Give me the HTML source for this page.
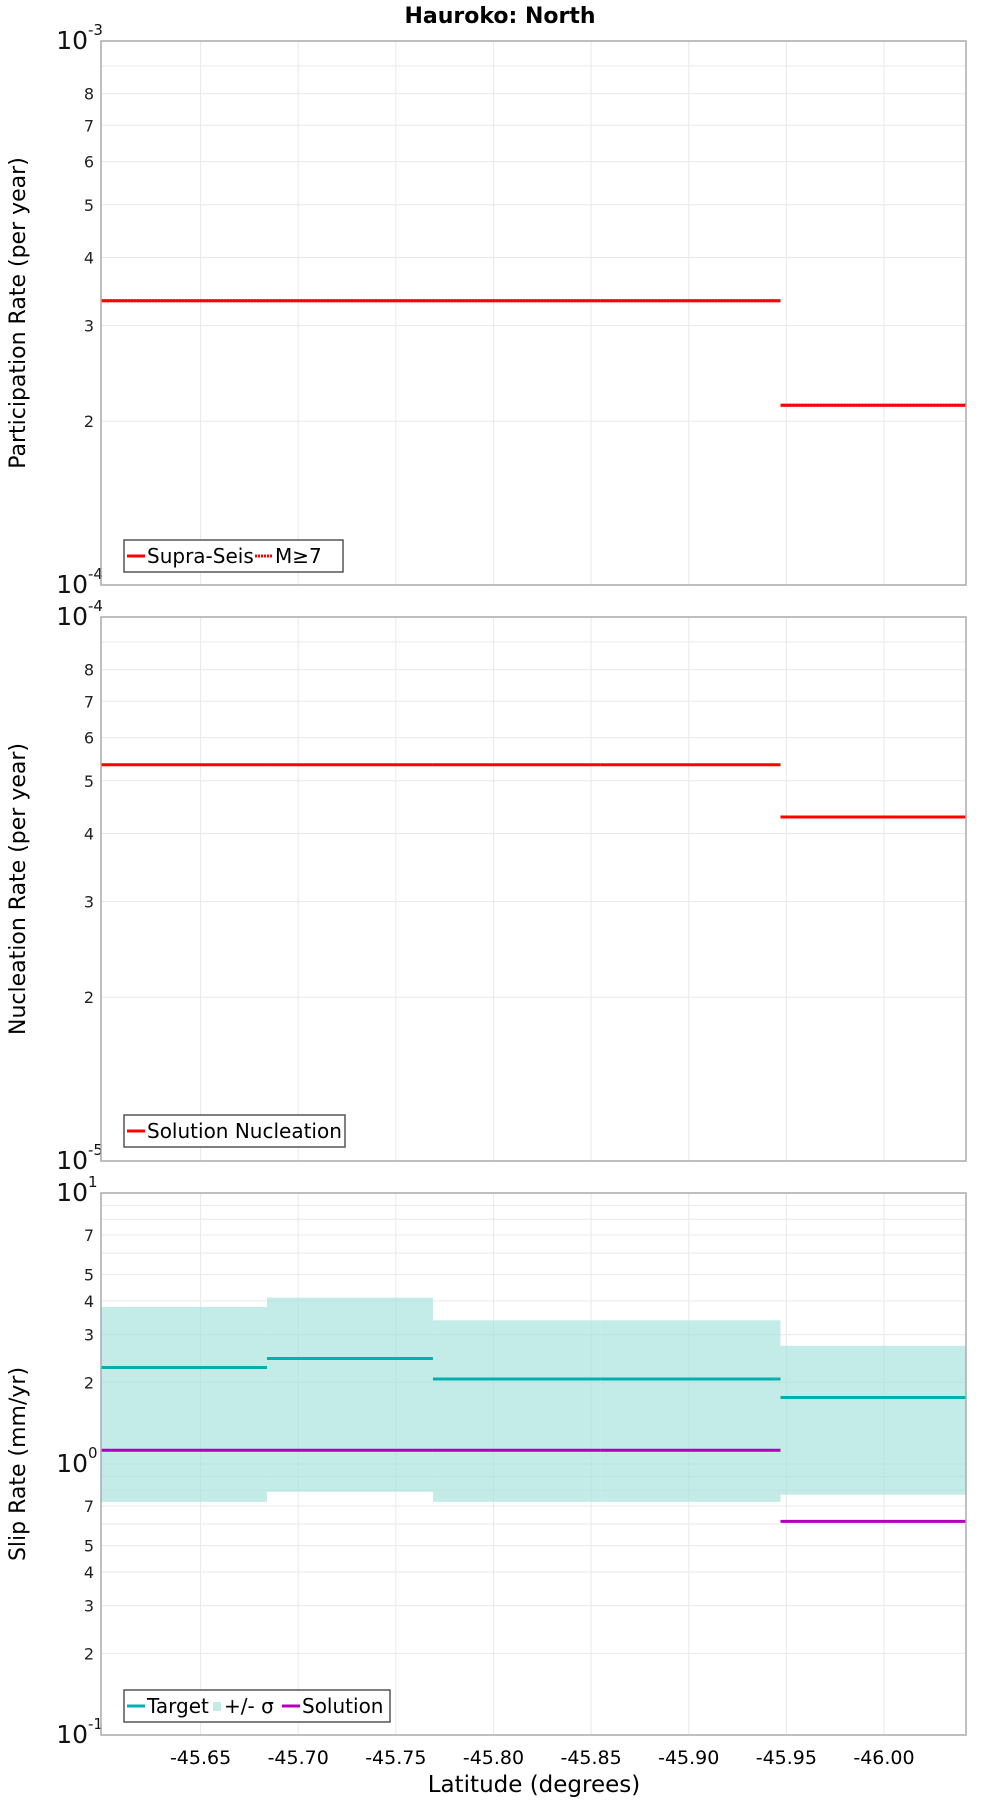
<!DOCTYPE html>
<html><head><meta charset="utf-8"><style>
body{margin:0;background:#fff}
svg{display:block;font-family:"DejaVu Sans","Liberation Sans",sans-serif}
</style></head><body>
<svg id="c" width="1000" height="1800" viewBox="0 0 1000 1800" xmlns="http://www.w3.org/2000/svg">
<text x="500" y="23" text-anchor="middle" font-size="22" font-weight="bold">Hauroko: North</text>
<text x="534" y="1792" text-anchor="middle" font-size="23">Latitude (degrees)</text>
</svg>
<script>
const segEdges = [-45.599, -45.684, -45.769, -45.855, -45.947, -46.042];
const xTicks = [-45.65, -45.70, -45.75, -45.80, -45.85, -45.90, -45.95, -46.00];
const xTickLabels = ["-45.65","-45.70","-45.75","-45.80","-45.85","-45.90","-45.95","-46.00"];
const partSupra = [3.33e-4, 3.33e-4, 3.33e-4, 3.33e-4, 2.14e-4];
const partM7 = [3.33e-4, 3.33e-4, 3.33e-4, 3.33e-4, 2.14e-4];
const nuclSol = [5.35e-5, 5.35e-5, 5.35e-5, 5.35e-5, 4.29e-5];
const slipTarget = [2.27, 2.45, 2.06, 2.06, 1.76];
const slipUpper = [3.80, 4.11, 3.39, 3.39, 2.73];
const slipLower = [0.725, 0.79, 0.725, 0.725, 0.77];
const slipSolution = [1.124, 1.124, 1.124, 1.124, 0.614];

const NS = "http://www.w3.org/2000/svg";
const svg = document.getElementById('c');
const L = 101, R = 966;
function xs(v){ return L + (v - segEdges[0]) / (segEdges[segEdges.length-1] - segEdges[0]) * (R - L); }
function mk(tag, attrs, parent){ const e = document.createElementNS(NS, tag); for (const k in attrs) e.setAttribute(k, attrs[k]); (parent||svg).appendChild(e); return e; }

function panel(top, bot, minExp, maxExp, labelDigits, title, name){
  const g = mk('g', {});
  
  
  const ys = v => bot - (Math.log10(v) - minExp) / (maxExp - minExp) * (bot - top);
  mk('rect', {x:L, y:top, width:R-L, height:bot-top, fill:'#fff'}, g);
  for (let e = minExp; e < maxExp; e++) {
    for (let d = 2; d <= 9; d++) {
      const y = ys(d * Math.pow(10, e));
      mk('line', {x1:L, x2:R, y1:y, y2:y, stroke:'#e9e9e9', 'stroke-width':1}, g);
      if (labelDigits.includes(d)) {
        const t = mk('text', {x:L-7, y:y+6, 'text-anchor':'end', 'font-size':16, fill:'#222'}, g);
        
        
        t.textContent = d;
      }
    }
    if (e > minExp) mk('line', {x1:L, x2:R, y1:ys(Math.pow(10,e)), y2:ys(Math.pow(10,e)), stroke:'#e9e9e9'}, g);
  }
  for (let e = minExp; e <= maxExp; e++) {
    const y = ys(Math.pow(10, e));
    const t = mk('text', {x:L-13, y:y+8, 'text-anchor':'end', 'font-size':25, fill:'#111'}, g);
    
    
    t.textContent = '10';
    const s = mk('text', {x:L-13, y:y-6, 'text-anchor':'start', 'font-size':15, fill:'#111'}, g);
    
    
    s.textContent = String(e);
  }
  xTicks.forEach(v => mk('line', {x1:xs(v), x2:xs(v), y1:top, y2:bot, stroke:'#e9e9e9'}, g));
  const yt = mk('text', {x:0, y:0, transform:`translate(25,${(top+bot)/2}) rotate(-90)`, 'text-anchor':'middle', 'font-size':22}, g);
  
  
  yt.textContent = title;
  return {g, ys, top, bot};
}
function frame(p){ mk('rect', {x:L, y:p.top, width:R-L, height:p.bot-p.top, fill:'none', stroke:'#aaa', 'stroke-width':1.5}, p.g); }
function steps(p, vals, color, nm, dash){
  vals.forEach((v, i) => {
    const l = mk('line', {x1:xs(segEdges[i]), x2:xs(segEdges[i+1]), y1:p.ys(v), y2:p.ys(v), stroke:color, 'stroke-width':3}, p.g);
    if (dash) l.setAttribute('stroke-dasharray', dash);
    
    
  });
}
function legend(p, x, y, w, items){
  const lg = mk('g', {}, p.g);
  
  
  mk('rect', {x, y, width:w, height:32, fill:'#fff', stroke:'#555', 'stroke-width':1.5}, lg);
  let cx = x + 3;
  items.forEach(it => {
    if (it.box) mk('rect', {x:cx+2, y:y+12, width:8, height:9, fill:it.color}, lg);
    else { const ln = mk('line', {x1:cx, x2:cx+18, y1:y+16, y2:y+16, stroke:it.color, 'stroke-width':3}, lg); if (it.dash) ln.setAttribute('stroke-dasharray', it.dash); }
    const t = mk('text', {x:cx+(it.box?13:20), y:y+23, 'font-size':20}, lg);
    
    
    t.textContent = it.label;
    cx += (it.box?13:20) + it.w;
  });
}

const p1 = panel(41, 585, -4, -3, [2,3,4,5,6,7,8], 'Participation Rate (per year)', 'participation-panel');
steps(p1, partSupra, '#ff0000', 'supra-seis');
steps(p1, partM7, '#ff0000', 'm7', '2,1');
frame(p1);
legend(p1, 124, 540, 219, [{color:'#f00', label:'Supra-Seis', w:108},{color:'#f00', dash:'2,1', label:'M≥7', w:50}]);

const p2 = panel(617, 1161, -5, -4, [2,3,4,5,6,7,8], 'Nucleation Rate (per year)', 'nucleation-panel');
steps(p2, nuclSol, '#ff0000', 'solution-nucleation');
frame(p2);
legend(p2, 124, 1115, 221, [{color:'#f00', label:'Solution Nucleation', w:200}]);

const p3 = panel(1193, 1735, -1, 1, [2,3,4,5,7], 'Slip Rate (mm/yr)', 'slip-rate-panel');
slipUpper.forEach((u, i) => {
  const r = mk('rect', {x:xs(segEdges[i]), y:p3.ys(u), width:xs(segEdges[i+1])-xs(segEdges[i]), height:p3.ys(slipLower[i])-p3.ys(u), fill:'#9ee0dc', 'fill-opacity':0.62}, p3.g);
  
  
});
steps(p3, slipTarget, '#00b0b0', 'target');
steps(p3, slipSolution, '#b000b8', 'solution');
frame(p3);
legend(p3, 124, 1690, 266, [{color:'#00b0b0', label:'Target', w:64},{color:'#c2ebe9', box:true, label:'+/- σ', w:58},{color:'#b000b8', label:'Solution', w:90}]);

xTicks.forEach((v, i) => {
  const t = mk('text', {x:xs(v), y:1764, 'text-anchor':'middle', 'font-size':19});
  
  
  t.textContent = xTickLabels[i];
});
</script>
</body></html>
